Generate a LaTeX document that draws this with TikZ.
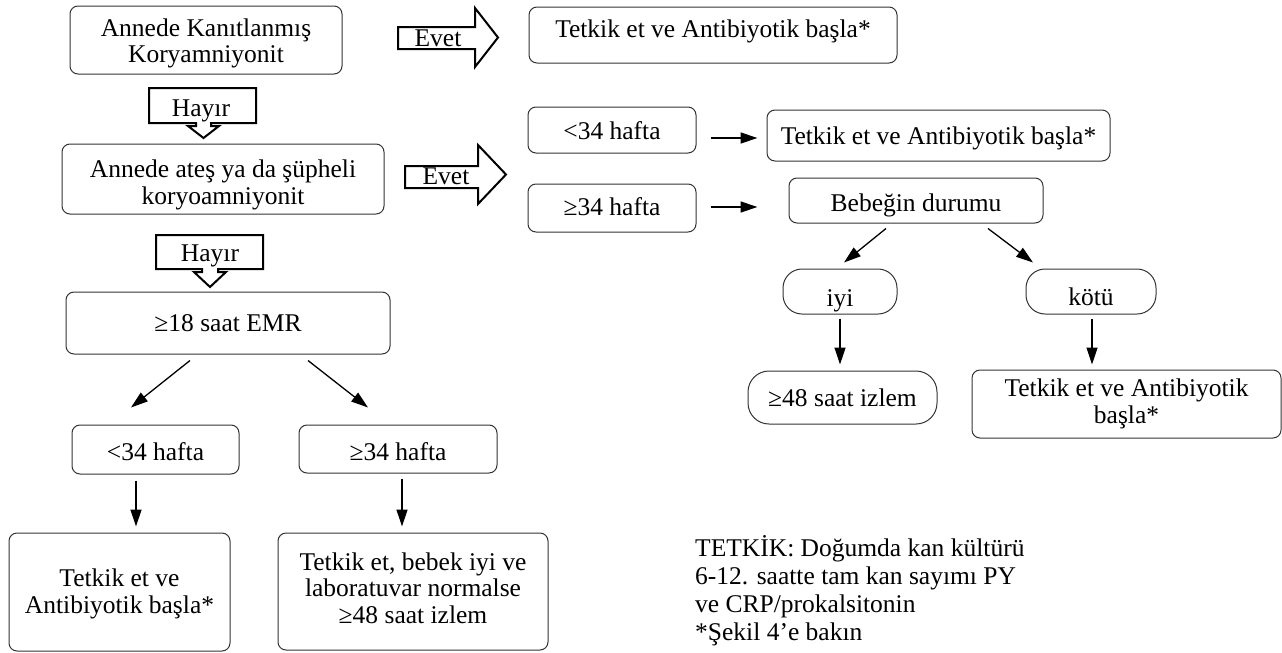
\documentclass[tikz,border=0pt]{standalone}
\usepackage{fontspec}
\setmainfont{Liberation Serif}
\usetikzlibrary{arrows.meta,calc}
\begin{document}
\begin{tikzpicture}[x=1pt,y=-1pt,
  txt/.style={font=\fontsize{25.5pt}{26.5pt}\selectfont, inner sep=0pt},
  bx/.style={txt, draw=black!80, line width=1pt, rounded corners=8pt, align=center},
  pill/.style={bx, rounded corners=19pt},
  up/.style={text height=#1pt, text depth=0pt},
  arr/.style={-{Triangle[length=17pt,width=11pt]}, line width=1.3pt},
  blk/.style={draw=black, line width=2pt, line join=miter, fill=white}]
\useasboundingbox (0,0) rectangle (1282,653);

% boxes
\node[bx, up=45, minimum width=272pt, minimum height=68pt] (A) at (206,40) {Annede Kanıtlanmış\\Koryamniyonit};
\node[bx, up=5, minimum width=368pt, minimum height=56pt] (B) at (713,35) {Tetkik et ve Antibiyotik başla*};
\node[bx, up=50, minimum width=322pt, minimum height=70pt] (C) at (223,179) {Annede ateş ya da şüpheli\\koryoamniyonit};
\node[bx, up=19, minimum width=168pt, minimum height=46pt] (D) at (612,130) {<34 hafta};
\node[bx, up=14, minimum width=168pt, minimum height=48pt] (E) at (612,208) {≥34 hafta};
\node[bx, up=17, minimum width=343pt, minimum height=51pt] (F) at (938.5,135.5) {Tetkik et ve Antibiyotik başla*};
\node[bx, up=22, minimum width=254pt, minimum height=45pt] (G) at (916,200.5) {Bebeğin durumu};
\node[pill, up=29, minimum width=114pt, minimum height=45pt] (H) at (840,291.5) {iyi};
\node[pill, up=27, minimum width=130pt, minimum height=45pt] (I) at (1091,291.5) {kötü};
\node[pill, up=18, rounded corners=21pt, minimum width=189pt, minimum height=53pt] (J) at (842.5,397.5) {≥48 saat izlem};
\node[bx, up=38, minimum width=309pt, minimum height=68pt] (K) at (1126.5,404) {Tetkik et ve Antibiyotik\\başla*};
\node[bx, up=17, minimum width=324pt, minimum height=62pt] (L) at (228,323) {≥18 saat EMR};
\node[bx, up=21, minimum width=167pt, minimum height=49pt] (M) at (155.5,449.5) {<34 hafta};
\node[bx, up=22, minimum width=198pt, minimum height=48pt] (N) at (398,449) {≥34 hafta};
\node[bx, up=42, minimum width=221pt, minimum height=118pt] (O) at (119.5,592) {Tetkik et ve\\Antibiyotik başla*};
\node[bx, up=63, minimum width=270pt, minimum height=117pt] (P) at (413,591.5) {Tetkik et, bebek iyi ve\\laboratuvar normalse\\≥48 saat izlem};

% block arrows
\draw[blk] (398,27) -- (475,27) -- (475,8) -- (498,37.5) -- (475,67) -- (475,49) -- (398,49) -- cycle;
\node[txt, anchor=base] (ev1) at (438,46) {Evet};
\draw[blk] (405,166) -- (478,166) -- (478,145) -- (506,174.5) -- (478,204) -- (478,188) -- (405,188) -- cycle;
\node[txt, anchor=base] (ev2) at (446,184) {Evet};
\draw[blk] (149,88) -- (256,88) -- (256,123) -- (211,123) -- (211,126) -- (219,126) -- (203.5,138) -- (188,126) -- (196,126) -- (196,123) -- (149,123) -- cycle;
\node[txt, anchor=base] (h1) at (201,116) {Hayır};
\draw[blk] (156,235) -- (263,235) -- (263,269) -- (218,269) -- (218,272) -- (226,272) -- (210,287) -- (194,272) -- (202,272) -- (202,269) -- (156,269) -- cycle;
\node[txt, anchor=base] (h2) at (210,261) {Hayır};

% connectors
\draw[arr] ($(D.east)+(14,8)$) -- ($(F.west)+(-9,2.5)$);
\draw[arr] ($(E.east)+(14,-1)$) -- ($(E.east -| G.west)+(-31,-1)$);
\draw[arr] ($(G.south)+(-30,5)$) -- ($(H.north)+(4,-6)$);
\draw[arr] ($(G.south)+(72,5)$) -- ($(I.north)+(-58,-6)$);
\draw[arr] ($(H.south)+(0,4)$) -- ($(H.south |- J.north)+(0,-6)$);
\draw[arr] ($(I.south)+(1,4)$) -- ($(I.south |- K.north)+(1,-5)$);
\draw[arr] ($(L.south)+(-38,6)$) -- ($(M.north)+(-24.5,-17)$);
\draw[arr] ($(L.south)+(80,6)$) -- ($(N.north)+(-30,-17)$);
\draw[arr] ($(M.south)+(-19.5,6)$) -- ($(O.north)+(16.5,-6)$);
\draw[arr] ($(N.south)+(4,5)$) -- ($(P.north)+(-11,-6)$);

% note
\node[txt, anchor=base west] (t1) at (695,556) {TETKİK: Doğumda kan kültürü};
\node[txt, anchor=base west] (t2) at (695,584) {6-12. saatte tam kan sayımı PY};
\node[txt, anchor=base west] (t3) at (695,612) {ve CRP/prokalsitonin};
\node[txt, anchor=base west] (t4) at (695,640) {*Şekil 4’e bakın};
\end{tikzpicture}
\end{document}
